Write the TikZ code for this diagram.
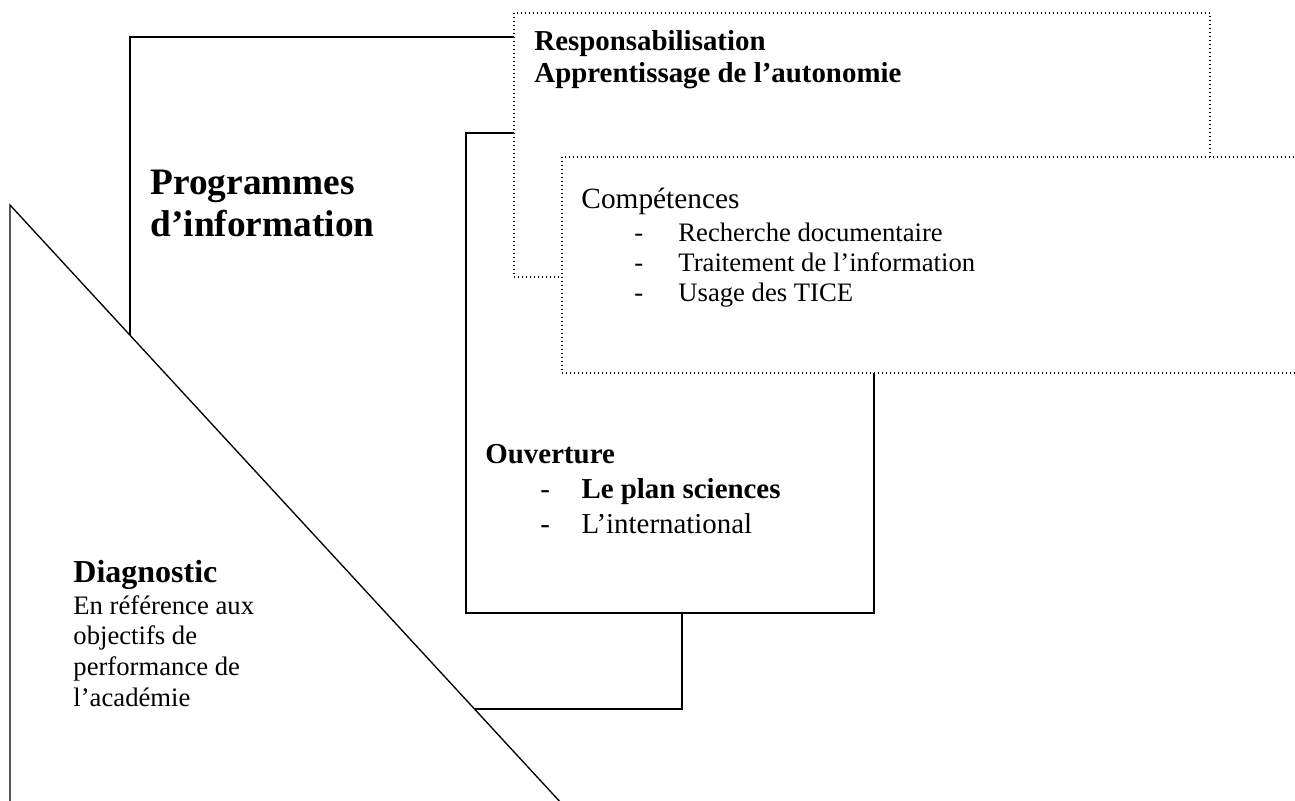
\documentclass[tikz,border=0pt]{standalone}
\usepackage{fontspec}
\setmainfont{Liberation Serif}
\newcommand{\tiret}[1][19.8pt]{\makebox[#1][l]{-}}

\begin{document}
\begin{tikzpicture}[x=0.45pt,y=-0.45pt,line join=miter,
    solidbox/.style={draw=black,fill=white,line width=0.7pt},
    dotbox/.style={draw=black,fill=white,line width=0.6pt,dash pattern=on 0.6pt off 1.2pt},
    txt/.style={anchor=base west,inner sep=0pt,align=left}]
  \useasboundingbox (0,0) rectangle (1295,801);
  \clip (0,0) rectangle (1295,801);
  % boxes, from back to front
  \draw[solidbox] (130,37) rectangle (682,709);
  \draw[solidbox,line width=0.5pt] (466,133) rectangle (874,613);
  \draw[dotbox] (514,13) rectangle (1210,277);
  \draw[dotbox] (562,157) rectangle (1320,373);
  \draw[solidbox,line width=0.6pt] (10,205) -- (10,830) -- (586,830) -- cycle;
  % texts (multi-line nodes sit on the baseline of their last line)
  \node[txt,font=\fontsize{16.8}{18.9}\selectfont\bfseries] (prog) at (150,236) {Programmes\\d’information};
  \node[txt,font=\fontsize{13}{14.4}\selectfont\bfseries] (resp) at (534,83) {Responsabilisation\\Apprentissage de l’autonomie};
  \node[txt,font=\fontsize{13.2}{15}\selectfont] (comp) at (581,209) {Compétences};
  \node[txt,font=\fontsize{12}{13.5}\selectfont] (complist) at (634,301) {\tiret Recherche documentaire\\\tiret Traitement de l’information\\\tiret Usage des TICE};
  \node[txt,font=\fontsize{13}{15.75}\selectfont\bfseries] (ouv) at (485,463) {Ouverture};
  \node[txt,font=\fontsize{13}{15.75}\selectfont] (ouvlist) at (540,533) {\tiret[18.5pt]\textbf{Le plan sciences}\\\tiret[18.5pt]L’international};
  \node[txt,font=\fontsize{14.4}{16}\selectfont\bfseries] (diag) at (73,582) {Diagnostic};
  \node[txt,font=\fontsize{12}{13.8}\selectfont] (diagtxt) at (73,706) {En référence aux\\objectifs de\\performance de\\l’académie};
\end{tikzpicture}
\end{document}
